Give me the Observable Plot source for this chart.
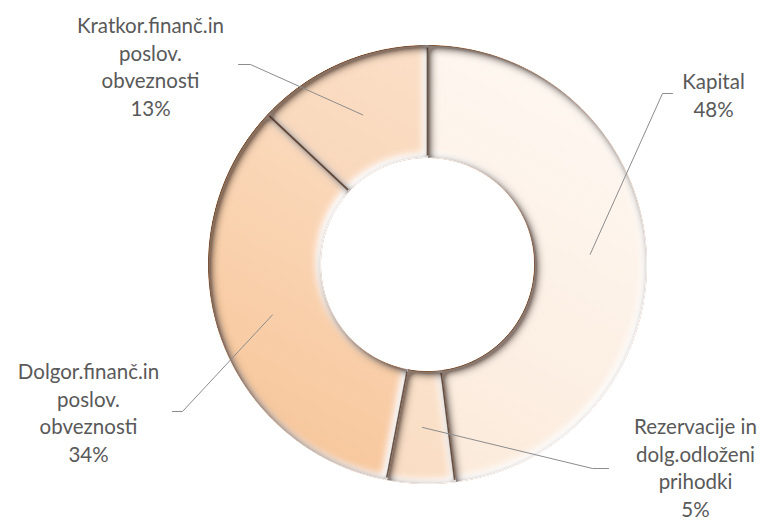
<!DOCTYPE html>
<html>
<head>
<meta charset="utf-8">
<script src="https://cdn.jsdelivr.net/npm/d3@7"></script>
<script src="https://cdn.jsdelivr.net/npm/@observablehq/plot@0.6"></script>
<style>
  html, body { margin: 0; padding: 0; background: #fff; }
  #chart { width: 760px; height: 520px; }
</style>
</head>
<body>
<div id="chart"></div>
<script>
// ---- data ----
const categories = ["Kapital", "Rezervacije in dolg.odloženi prihodki", "Dolgor.finanč.in poslov. obveznosti", "Kratkor.finanč.in poslov. obveznosti"];
const labelLines = [
  ["Kapital"],
  ["Rezervacije in", "dolg.odloženi", "prihodki"],
  ["Dolgor.finanč.in", "poslov.", "obveznosti"],
  ["Kratkor.finanč.in", "poslov.", "obveznosti"]
];
const shares = [48, 5, 34, 13];
const sliceColors = ["#fdf1e6", "#fbe4d0", "#f9d2b0", "#f9d8bc"];

// ---- layout (not data) ----
const W = 760, H = 520;
const cx = 427, cy = 264, rOuter = 219, rInner = 107;
const lineH = 27.7;
const labelLayout = [
  {x: 713, y: 82, elbow: [[662, 93], [672, 93]]},
  {x: 695, y: 427, elbow: [[592, 468], [608, 468]]},
  {x: 88, y: 372, elbow: [[182, 411], [172, 411]]},
  {x: 150, y: 26, elbow: [[250, 64], [238, 64]]}
];

const total = d3.sum(shares);
const pt = (r, a) => [cx + r * Math.sin(a), cy - r * Math.cos(a)];

const slicePts = [];
const midAngles = [];
const boundaries = [];
let acc = 0;
shares.forEach((v, i) => {
  const a0 = acc / total * 2 * Math.PI;
  acc += v;
  const a1 = acc / total * 2 * Math.PI;
  midAngles.push((a0 + a1) / 2);
  const [bx1, by1] = pt(rInner + 2, a0), [bx2, by2] = pt(rOuter - 2, a0);
  boundaries.push({x1: bx1, y1: by1, x2: bx2, y2: by2});
  const n = Math.max(4, Math.ceil((a1 - a0) / 0.01));
  for (let k = 0; k <= n; k++) {
    const [x, y] = pt(rOuter, a0 + (a1 - a0) * k / n);
    slicePts.push({name: categories[i], x, y});
  }
  for (let k = n; k >= 0; k--) {
    const [x, y] = pt(rInner, a0 + (a1 - a0) * k / n);
    slicePts.push({name: categories[i], x, y});
  }
});

const leaderPts = [];
categories.forEach((c, i) => {
  const [x, y] = pt((rOuter + rInner) / 2, midAngles[i]);
  leaderPts.push({name: c, x, y});
  labelLayout[i].elbow.forEach(([ex, ey]) => leaderPts.push({name: c, x: ex, y: ey}));
});

const labelRows = [];
categories.forEach((c, i) => {
  const lines = [...labelLines[i], shares[i] + "%"];
  lines.forEach((t, j) => labelRows.push({text: t, x: labelLayout[i].x, y: labelLayout[i].y + j * lineH}));
});

const chart = Plot.plot({
  width: W, height: H,
  margin: 0,
  x: {domain: [0, W], range: [0, W], axis: null},
  y: {domain: [0, H], range: [0, H], axis: null},
  color: {domain: categories, range: sliceColors},
  style: {background: "#fff", fontFamily: "Lato, 'Open Sans', sans-serif"},
  marks: [
    Plot.line(slicePts, {x: "x", y: "y", z: "name", fill: "name", stroke: "#c47a44", strokeWidth: 1, strokeOpacity: 0.7, curve: "linear-closed"}),
    Plot.link(boundaries, {x1: "x1", y1: "y1", x2: "x2", y2: "y2", stroke: "#3a2010", strokeWidth: 1.6, strokeOpacity: 0.75}),
    Plot.line(leaderPts, {x: "x", y: "y", z: "name", stroke: "#8c8c8c", strokeWidth: 1}),
    Plot.text(labelRows, {x: "x", y: "y", text: "text", fill: "#595959", fontSize: 20.5, textAnchor: "middle", lineAnchor: "middle"})
  ]
});

// bevel-like shading
const ns = "http://www.w3.org/2000/svg";
const defs = document.createElementNS(ns, "defs");
const gradStops = [
  ["#fef8f2", "#fbe8d7"],
  ["#fdefe2", "#f9dbc0"],
  ["#fde5d0", "#f7c69a"],
  ["#fbe1ca", "#f7cdaa"]
];
let defsHtml = "";
gradStops.forEach(([a, b], i) => {
  defsHtml += `<linearGradient id="sg${i}" gradientUnits="userSpaceOnUse" x1="${cx + 120}" y1="${cy - rOuter}" x2="${cx - 120}" y2="${cy + rOuter}">
    <stop offset="0" stop-color="${a}"/><stop offset="1" stop-color="${b}"/></linearGradient>`;
});
defsHtml += `
<filter id="bevel" x="-10%" y="-10%" width="120%" height="120%">
  <feGaussianBlur in="SourceAlpha" stdDeviation="4" result="blur"/>
  <feOffset in="blur" dx="3" dy="3" result="offBlur"/>
  <feComposite in="SourceAlpha" in2="offBlur" operator="arithmetic" k2="1.8" k3="-1.8" result="edgeDark"/>
  <feFlood flood-color="#4a2810" flood-opacity="0.8"/>
  <feComposite in2="edgeDark" operator="in" result="shadow"/>
  <feOffset in="blur" dx="-3" dy="-3" result="offBlur2"/>
  <feComposite in="SourceAlpha" in2="offBlur2" operator="arithmetic" k2="1.6" k3="-1.6" result="edgeLight"/>
  <feFlood flood-color="#ffffff" flood-opacity="0.95"/>
  <feComposite in2="edgeLight" operator="in" result="hl"/>
  <feMerge><feMergeNode in="SourceGraphic"/><feMergeNode in="hl"/><feMergeNode in="shadow"/></feMerge>
</filter>`;
defs.innerHTML = defsHtml;
chart.insertBefore(defs, chart.firstChild);
const sliceGroup = chart.querySelectorAll('g[aria-label="line"]')[0];
if (sliceGroup) {
  sliceGroup.querySelectorAll("path").forEach((p) => {
    const f = (p.getAttribute("fill") || "").toLowerCase();
    const idx = sliceColors.indexOf(f);
    if (idx >= 0) p.setAttribute("fill", `url(#sg${idx})`);
    p.setAttribute("filter", "url(#bevel)");
  });
}

document.getElementById("chart").appendChild(chart);
</script>
</body>
</html>
